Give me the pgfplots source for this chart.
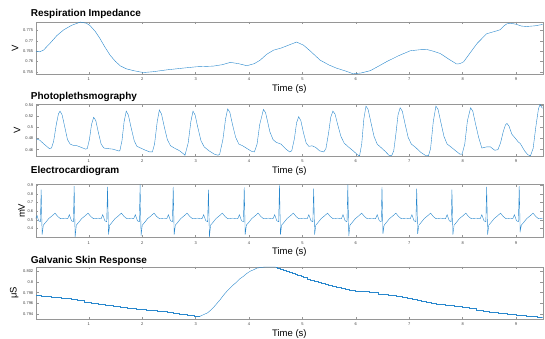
\documentclass[border=0pt]{standalone}
\usepackage{fontspec}
\setmainfont{Liberation Sans}
\usepackage{pgfplots}
\pgfplotsset{compat=1.18}
\definecolor{mblue}{RGB}{40,135,205}
\definecolor{axgray}{RGB}{150,150,150}
\definecolor{tkgray}{RGB}{60,60,60}
\pgfplotsset{panel/.style={
  scale only axis, width=506.7pt,
  xmin=0.01, xmax=9.5, xtick={1,...,9},
  axis line style={axgray, line width=0.4pt},
  tick style={axgray, line width=0.4pt},
  tick align=inside, major tick length=2.5pt, tick pos=both,
  ticklabel style={font=\fontsize{4}{5}\selectfont, color=tkgray, inner sep=0pt},
  /pgf/number format/assume math mode=true,
  yticklabel style={/pgf/number format/fixed, /pgf/number format/precision=3, anchor=east, xshift=-2.6pt},
  xticklabel style={anchor=north, yshift=-3.8pt},
  scaled y ticks=false, scaled x ticks=false,
  xlabel={Time (s)},
  xlabel style={font=\fontsize{9.5}{11}\selectfont, at={(rel axis cs:0.5,0)}, anchor=base, yshift=-17.5pt, inner sep=0pt},
  ylabel style={font=\fontsize{9.5}{11}\selectfont, at={(rel axis cs:0,0.5)}, anchor=center, inner sep=0pt},
  every axis title shift=0pt,
  title style={font=\bfseries\fontsize{10}{12}\selectfont, at={(rel axis cs:0,1)}, anchor=base west, xshift=-5.3pt, inner sep=0pt},
}}
\tikzset{sig/.style={mblue, line width=0.4pt}}
\begin{document}
\begin{tikzpicture}
\useasboundingbox (0,0) rectangle (545pt,-338pt);
% Respiration
\begin{axis}[panel, at={(36pt,-21.7pt)}, anchor=north west, height=52.3pt,
  ymin=0.754, ymax=0.7792, ytick={0.755,0.76,0.765,0.77,0.775},
  ylabel={V}, ylabel style={yshift=21pt},
  title={Respiration Impedance}, title style={yshift=5.4pt}]
\addplot[sig] coordinates {
(0.00,0.7650)(0.08,0.7647)(0.15,0.7655)(0.28,0.7690)(0.40,0.7725)(0.53,0.7753)(0.68,0.7775)(0.84,0.7790)(0.95,0.7785)(1.02,0.7774)(1.12,0.7745)(1.21,0.7710)(1.30,0.7670)(1.40,0.7630)(1.50,0.7600)(1.59,0.7579)(1.70,0.7565)(1.84,0.7556)(2.02,0.7547)(2.20,0.7551)(2.46,0.7560)(2.75,0.7568)(3.02,0.7575)(3.33,0.7578)(3.50,0.7585)(3.65,0.7596)(3.80,0.7590)(3.96,0.7580)(4.10,0.7590)(4.21,0.7607)(4.33,0.7635)(4.46,0.7655)(4.60,0.7665)(4.75,0.7680)(4.89,0.7694)(5.02,0.7679)(5.15,0.7650)(5.33,0.7607)(5.50,0.7583)(5.64,0.7568)(5.80,0.7555)(5.95,0.7541)(6.10,0.7545)(6.27,0.7556)(6.42,0.7577)(6.58,0.7600)(6.80,0.7628)(7.02,0.7652)(7.20,0.7657)(7.33,0.7658)(7.45,0.7650)(7.58,0.7639)(7.75,0.7610)(7.89,0.7588)(7.95,0.7590)(8.02,0.7599)(8.15,0.7645)(8.27,0.7687)(8.45,0.7734)(8.60,0.7745)(8.70,0.7753)(8.78,0.7773)(8.83,0.7782)(8.92,0.7784)(9.01,0.7779)(9.10,0.7771)(9.20,0.7769)(9.35,0.7772)(9.50,0.7779)
};
\end{axis}
% PPG
\begin{axis}[panel, at={(36pt,-104.3pt)}, anchor=north west, height=51.7pt,
  ymin=0.4487, ymax=0.5412, ytick={0.46,0.48,0.5,0.52,0.54},
  ylabel={V}, ylabel style={yshift=19pt},
  title={Photoplethsmography}, title style={yshift=4.8pt}]
\addplot[sig] coordinates {
(0.00,0.480)(0.08,0.477)(0.16,0.470)(0.26,0.462)(0.30,0.463)
(0.34,0.475)(0.39,0.505)(0.43,0.524)(0.46,0.529)(0.50,0.522)(0.55,0.500)(0.60,0.478)(0.65,0.470)(0.70,0.468)(0.78,0.467)(0.86,0.464)(0.94,0.461)
(0.97,0.462)(1.01,0.478)(1.05,0.505)(1.09,0.518)(1.13,0.512)(1.18,0.490)(1.23,0.470)(1.28,0.463)(1.35,0.462)(1.45,0.461)(1.55,0.458)
(1.58,0.458)(1.62,0.476)(1.66,0.510)(1.70,0.529)(1.74,0.522)(1.79,0.500)(1.85,0.476)(1.90,0.466)(1.97,0.463)(2.06,0.459)(2.14,0.456)(2.19,0.456)
(2.23,0.470)(2.28,0.510)(2.32,0.531)(2.36,0.524)(2.41,0.502)(2.47,0.478)(2.53,0.467)(2.60,0.463)(2.70,0.458)(2.78,0.452)(2.80,0.450)
(2.86,0.472)(2.91,0.510)(2.95,0.529)(2.99,0.522)(3.04,0.500)(3.10,0.476)(3.16,0.465)(3.25,0.458)(3.35,0.452)(3.42,0.450)
(3.45,0.452)(3.51,0.478)(3.56,0.515)(3.60,0.533)(3.64,0.527)(3.69,0.505)(3.75,0.482)(3.81,0.470)(3.88,0.467)(3.98,0.461)(4.05,0.457)(4.10,0.456)
(4.15,0.470)(4.20,0.505)(4.27,0.532)(4.31,0.526)(4.36,0.505)(4.39,0.492)(4.45,0.478)(4.51,0.473)(4.60,0.470)(4.68,0.462)(4.76,0.456)
(4.80,0.458)(4.85,0.480)(4.89,0.508)(4.93,0.519)(4.97,0.512)(5.02,0.490)(5.07,0.472)(5.12,0.466)(5.18,0.467)(5.25,0.464)(5.32,0.458)(5.40,0.456)
(5.44,0.462)(5.49,0.490)(5.53,0.518)(5.57,0.529)(5.61,0.524)(5.66,0.505)(5.72,0.484)(5.78,0.472)(5.86,0.465)(5.95,0.458)(6.03,0.451)(6.07,0.449)
(6.11,0.470)(6.15,0.515)(6.19,0.538)(6.23,0.532)(6.28,0.510)(6.34,0.484)(6.40,0.470)(6.47,0.464)(6.55,0.457)(6.62,0.450)(6.67,0.449)
(6.71,0.458)(6.75,0.488)(6.79,0.522)(6.83,0.535)(6.87,0.529)(6.92,0.507)(6.98,0.482)(7.04,0.470)(7.12,0.464)(7.22,0.455)(7.30,0.450)(7.36,0.449)
(7.40,0.462)(7.45,0.510)(7.50,0.538)(7.54,0.532)(7.59,0.510)(7.65,0.484)(7.71,0.470)(7.78,0.465)(7.87,0.458)(7.95,0.452)(7.99,0.452)
(8.04,0.470)(8.09,0.512)(8.15,0.535)(8.19,0.529)(8.24,0.507)(8.30,0.482)(8.36,0.463)(8.45,0.465)(8.52,0.465)(8.60,0.459)(8.66,0.460)
(8.71,0.472)(8.76,0.492)(8.80,0.504)(8.83,0.507)(8.87,0.502)(8.92,0.488)(8.99,0.480)(9.04,0.474)(9.08,0.471)(9.16,0.458)(9.22,0.451)(9.27,0.449)
(9.32,0.462)(9.37,0.500)(9.42,0.533)(9.45,0.541)(9.48,0.536)(9.50,0.534)
};
\end{axis}
% ECG
\begin{axis}[panel, at={(36pt,-184.3pt)}, anchor=north west, height=53pt,
  ymin=0.30, ymax=0.91, ytick={0.4,0.5,0.6,0.7,0.8,0.9},
  ylabel={mV}, ylabel style={yshift=14.3pt},
  title={Electrocardiogram}, title style={yshift=11pt}]
\addplot[sig] coordinates {
(0,0.51)(0.03,0.55)(0.06,0.49)(0.092,0.48)(0.107,0.85)(0.125,0.33)(0.147,0.44)(0.182,0.465)(0.247,0.515)(0.307,0.545)(0.367,0.578)(0.417,0.54)(0.467,0.515)(0.557,0.52)
(0.605,0.515)(0.635,0.56)(0.675,0.49)(0.71,0.48)(0.725,0.89)(0.743,0.305)(0.765,0.44)(0.80,0.465)(0.865,0.515)(0.925,0.545)(0.985,0.578)(1.035,0.54)(1.085,0.515)(1.175,0.52)
(1.23,0.515)(1.26,0.56)(1.30,0.49)(1.335,0.48)(1.35,0.88)(1.368,0.33)(1.39,0.44)(1.425,0.465)(1.49,0.515)(1.55,0.545)(1.61,0.578)(1.66,0.54)(1.71,0.515)(1.80,0.52)
(1.84,0.515)(1.87,0.56)(1.91,0.49)(1.945,0.48)(1.96,0.905)(1.978,0.32)(2.00,0.44)(2.035,0.465)(2.10,0.515)(2.16,0.545)(2.22,0.578)(2.27,0.54)(2.32,0.515)(2.41,0.52)
(2.46,0.515)(2.49,0.56)(2.53,0.49)(2.565,0.48)(2.58,0.88)(2.598,0.33)(2.62,0.44)(2.655,0.465)(2.72,0.515)(2.78,0.545)(2.84,0.578)(2.89,0.54)(2.94,0.515)(3.03,0.52)
(3.12,0.515)(3.15,0.56)(3.19,0.49)(3.225,0.48)(3.24,0.85)(3.258,0.305)(3.28,0.44)(3.315,0.465)(3.38,0.515)(3.44,0.545)(3.50,0.578)(3.55,0.54)(3.60,0.515)(3.69,0.52)
(3.79,0.515)(3.82,0.56)(3.86,0.49)(3.895,0.48)(3.91,0.875)(3.928,0.33)(3.95,0.44)(3.985,0.465)(4.05,0.515)(4.11,0.545)(4.17,0.578)(4.22,0.54)(4.27,0.515)(4.36,0.52)
(4.45,0.515)(4.48,0.56)(4.52,0.49)(4.555,0.48)(4.57,0.905)(4.588,0.33)(4.61,0.44)(4.645,0.465)(4.71,0.515)(4.77,0.545)(4.83,0.578)(4.88,0.54)(4.93,0.515)(5.02,0.52)
(5.09,0.515)(5.12,0.56)(5.16,0.49)(5.195,0.48)(5.21,0.86)(5.228,0.33)(5.25,0.44)(5.285,0.465)(5.35,0.515)(5.41,0.545)(5.47,0.578)(5.52,0.54)(5.57,0.515)(5.66,0.52)
(5.73,0.515)(5.76,0.56)(5.80,0.49)(5.835,0.48)(5.85,0.905)(5.868,0.315)(5.89,0.44)(5.925,0.465)(5.99,0.515)(6.05,0.545)(6.11,0.578)(6.16,0.54)(6.21,0.515)(6.30,0.52)
(6.37,0.515)(6.40,0.56)(6.44,0.49)(6.475,0.48)(6.49,0.88)(6.508,0.34)(6.53,0.44)(6.565,0.465)(6.63,0.515)(6.69,0.545)(6.75,0.578)(6.80,0.54)(6.85,0.515)(6.94,0.52)
(7.02,0.515)(7.05,0.56)(7.09,0.49)(7.125,0.48)(7.14,0.86)(7.158,0.34)(7.18,0.44)(7.215,0.465)(7.28,0.515)(7.34,0.545)(7.40,0.578)(7.45,0.54)(7.50,0.515)(7.59,0.52)
(7.68,0.515)(7.71,0.56)(7.75,0.49)(7.785,0.48)(7.80,0.85)(7.818,0.33)(7.84,0.44)(7.875,0.465)(7.94,0.515)(8.00,0.545)(8.06,0.578)(8.11,0.54)(8.16,0.515)(8.25,0.52)
(8.33,0.515)(8.36,0.56)(8.40,0.49)(8.435,0.48)(8.45,0.88)(8.468,0.33)(8.49,0.44)(8.525,0.465)(8.59,0.515)(8.65,0.545)(8.71,0.578)(8.76,0.54)(8.81,0.515)(8.90,0.52)
(8.94,0.515)(8.97,0.56)(9.01,0.49)(9.045,0.48)(9.06,0.89)(9.078,0.37)(9.10,0.44)(9.135,0.465)(9.20,0.515)(9.26,0.545)(9.32,0.578)(9.37,0.54)(9.42,0.515)(9.50,0.52)
};
\end{axis}
% GSR
\begin{axis}[panel, at={(36pt,-266.7pt)}, anchor=north west, height=52.3pt,
  ymin=0.79307, ymax=0.80285, ytick={0.794,0.796,0.798,0.8,0.802},
  ylabel={μS}, ylabel style={yshift=21.8pt},
  title={Galvanic Skin Response}, title style={yshift=3.4pt}]
\addplot[sig, const plot] coordinates {
(0.00,0.7975)(0.10,0.7973)(0.29,0.7971)(0.48,0.7969)(0.66,0.7967)(0.79,0.7965)(0.92,0.7963)(1.05,0.7961)(1.18,0.7959)(1.31,0.7957)(1.45,0.7955)(1.58,0.7953)(1.72,0.7951)(1.88,0.7949)(2.08,0.7947)(2.28,0.7945)(2.46,0.7943)(2.58,0.7941)(2.70,0.7939)(2.85,0.7937)(2.98,0.79357)(3.08,0.79357)
};
\addplot[sig] coordinates {
(3.08,0.79357)(3.15,0.7939)(3.22,0.7942)(3.28,0.7947)(3.34,0.7953)(3.40,0.7960)(3.46,0.7967)(3.52,0.7975)(3.58,0.7982)(3.64,0.7988)(3.70,0.7994)(3.77,0.8000)(3.83,0.8006)(3.90,0.8011)(3.96,0.8016)(4.02,0.8020)(4.09,0.8023)(4.15,0.8026)(4.22,0.8027)(4.30,0.8028)(4.50,0.8028)
};
\addplot[sig, const plot] coordinates {
(4.50,0.8028)(4.52,0.8026)(4.58,0.8024)(4.64,0.8022)(4.69,0.8020)(4.75,0.8018)(4.80,0.8016)(4.86,0.8014)(4.91,0.8012)(4.97,0.8010)(5.02,0.8008)(5.09,0.8006)(5.15,0.8004)(5.22,0.8002)(5.29,0.8000)(5.35,0.7998)(5.42,0.7996)(5.48,0.7994)(5.56,0.7992)(5.64,0.7990)(5.72,0.7988)(5.80,0.7986)(5.88,0.7984)(5.98,0.7982)
(6.25,0.7980)(6.42,0.7978)(6.60,0.7976)(6.76,0.7974)(6.86,0.7972)(6.96,0.7970)(7.05,0.7968)(7.14,0.7966)(7.23,0.7964)(7.32,0.7962)(7.41,0.7960)(7.50,0.7958)(7.67,0.7956)(7.84,0.7954)(8.00,0.7952)(8.12,0.7950)(8.25,0.7948)(8.38,0.7946)(8.50,0.7944)(8.67,0.7942)(8.84,0.7940)(9.00,0.7938)(9.20,0.7936)(9.40,0.7934)(9.50,0.7934)
};
\end{axis}
\end{tikzpicture}
\end{document}
